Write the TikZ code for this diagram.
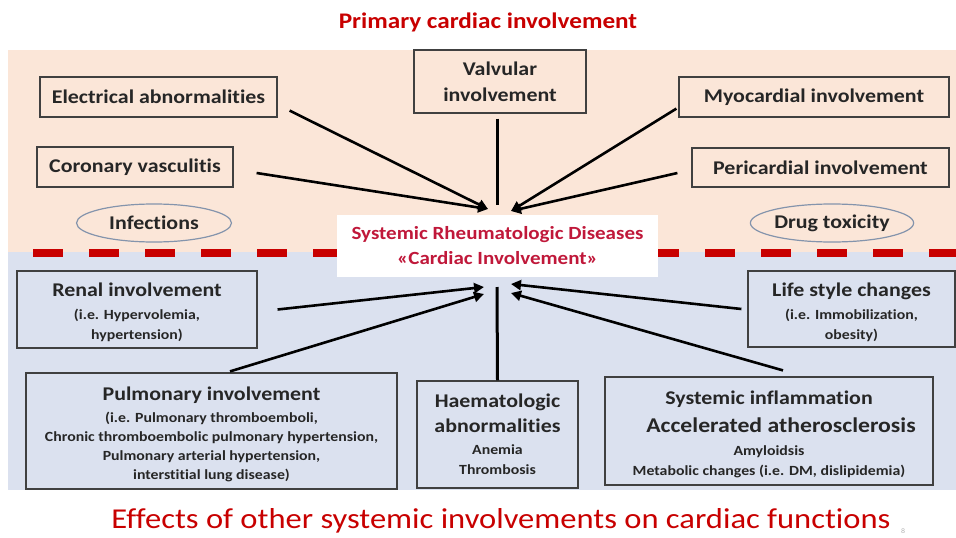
\documentclass[tikz,border=0pt]{standalone}
\usepackage{fontspec}
\setmainfont{Carlito}[FakeStretch=1.13,Ligatures={NoCommon}]
\usetikzlibrary{arrows.meta,calc,shapes.geometric}
\definecolor{peach}{HTML}{FBE6D8}
\definecolor{lblue}{HTML}{DBE1EF}
\definecolor{tred}{HTML}{C80000}
\definecolor{cred}{HTML}{C0183A}
\definecolor{txt}{HTML}{262626}
\definecolor{edge}{HTML}{404040}
\definecolor{oval}{HTML}{8494AC}
\newcommand\smalltxt{\fontsize{14}{19.5}\selectfont}
\newcommand\bigtxt{\fontsize{19.4}{19.5}\selectfont}
\newcommand\topstrut{\rule{0pt}{20pt}}
\begin{document}
\begin{tikzpicture}[x=1pt,y=-1pt,
  box/.style={draw=edge,line width=1.2pt,inner sep=0pt,align=center,text=txt,font=\bfseries\bigtxt},
  ovalbox/.style={ellipse,draw=oval,line width=1.2pt,inner sep=0pt,text=txt,font=\bfseries\bigtxt},
  arr/.style={line width=2.6pt,-{Triangle[length=10pt,width=10pt]}},
  stem/.style={line width=3pt}]
\useasboundingbox (0,0) rectangle (956,538);
% backgrounds
\fill[peach] (8,50) rectangle (956,252);
\fill[lblue] (8,252) rectangle (956,490);
\draw[tred,line width=8pt,dash pattern=on 30pt off 26pt] (33,253) -- (956,253);
% titles
\node[text=tred,font=\bfseries\fontsize{22.3}{24}\selectfont] (ttop) at (488,22) {Primary cardiac involvement};
\node[text=tred,font=\fontsize{28.8}{30}\selectfont] (tbot) at (501,521) {Effects of other systemic involvements on cardiac functions};
\node[text=gray!60,font=\fontsize{7}{8}\selectfont] (pnum) at (903,531) {8};
% center
\node[fill=white,minimum width=321pt,minimum height=62pt,inner sep=0pt,align=center,text=cred,font=\bfseries\fontsize{18.6}{25}\selectfont] (c) at (497.5,246) {Systemic Rheumatologic Diseases\\«Cardiac Involvement»};
% upper boxes
\node[box,fill=peach,minimum width=237pt,minimum height=40pt] (elec) at (158.5,97) {Electrical abnormalities};
\node[box,fill=peach,minimum width=196pt,minimum height=40pt] (coro) at (135,167) {Coronary vasculitis};
\node[box,fill=peach,minimum width=172pt,minimum height=63pt] (valv) at (500,81.5) {Valvular\\[6.5pt]involvement};
\node[box,fill=peach,minimum width=270pt,minimum height=40pt] (myo) at (814,97) {Myocardial involvement};
\node[box,fill=peach,minimum width=257pt,minimum height=39pt] (peri) at (820.5,167.5) {Pericardial involvement};
\node[ovalbox,fill=peach,minimum width=155pt,minimum height=38pt] (inf) at (154,223) {Infections};
\node[ovalbox,fill=peach,minimum width=157pt,minimum height=38pt] (drug) at (832,223) {Drug toxicity};
% lower boxes
\node[box,fill=lblue,minimum width=240pt,minimum height=77pt] (ren) at (137,309.5) {\topstrut Renal involvement\\[3.5pt]\smalltxt(i.e. Hypervolemia,\\[0.5pt]\smalltxt hypertension)};
\node[box,fill=lblue,minimum width=371pt,minimum height=116pt] (pulm) at (211.5,431) {\topstrut Pulmonary involvement\\[2.5pt]\smalltxt(i.e. Pulmonary thromboemboli,\\\smalltxt Chronic thromboembolic  pulmonary hypertension,\\[-1pt]\smalltxt Pulmonary arterial hypertension,\\\smalltxt interstitial lung disease)};
\node[box,fill=lblue,minimum width=161pt,minimum height=107pt] (haem) at (497.5,434.5) {Haematologic\\[5.5pt]abnormalities\\[2.5pt]\smalltxt Anemia\\[0.5pt]\smalltxt Thrombosis};
\node[box,fill=lblue,minimum width=328pt,minimum height=108pt] (sys) at (769,431) {\topstrut Systemic inflammation\\[8.5pt]\fontsize{21}{20}\selectfont\hspace*{24pt}Accelerated atherosclerosis\\[4pt]\smalltxt Amyloidsis\\\smalltxt Metabolic  changes (i.e. DM, dislipidemia)};
\node[box,fill=lblue,minimum width=207pt,minimum height=76pt] (life) at (851.5,309) {\topstrut Life style changes\\[3.5pt]\smalltxt(i.e. Immobilization,\\[0.5pt]\smalltxt obesity)};
% tips
\coordinate (tUL) at (488,209);
\coordinate (tUR) at (511,211);
\coordinate (vtip) at (497,205);
\coordinate (tLL1) at (484,287);
\coordinate (tLL2) at (484,294);
\coordinate (tLR1) at (511,284);
\coordinate (tLR2) at (511,293);
\coordinate (htop) at (497,287);
% connectors
\draw[arr] ($(elec.south east)+(12,-7)$) -- (tUL);
\draw[arr] ($(coro.east)+(23,6)$) -- (tUL);
\draw[stem] ($(valv.south)+(-3,5)$) -- (vtip);
\draw[arr] ($(myo.south west)+(-2,-9)$) -- (tUR);
\draw[arr] ($(peri.west)+(-14,5.5)$) -- (tUR);
\draw[arr] ($(ren.east)+(20,0)$) -- (tLL1);
\draw[arr] ($(pulm.north)+(18.5,-1)$) -- (tLL2);
\draw[stem] (haem.north) -- (htop);
\draw[arr] ($(life.west)+(-6,0)$) -- (tLR1);
\draw[arr] ($(sys.north)+(14,-6)$) -- (tLR2);
\end{tikzpicture}
\end{document}
